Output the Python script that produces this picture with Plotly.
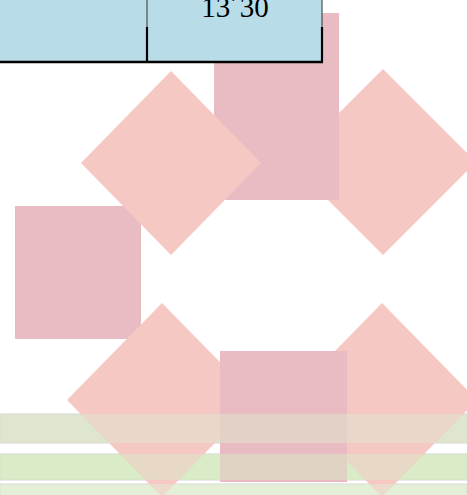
import plotly.graph_objects as go

W, H = 467, 495

# table (light blue header cell fragment)
table_x = [0, 322]
table_y = [0, 62]
divider_x = [147, 322]
split_y = 27
cell_text = "13´30"
cell_text_x = 235
cell_text_y = 10

# rectangles (mauve)
rect_x0 = [214, 15, 220]
rect_x1 = [339, 141, 347]
rect_y0 = [13, 206, 351]
rect_y1 = [200, 339, 482]

# diamonds (salmon): centre and half-diagonals
dia_cx = [383, 171, 162, 382]
dia_cy = [162, 163, 400, 400]
dia_rx = [93, 90, 95, 95]
dia_ry = [93, 92, 97, 97]

# green bands
band_y0 = [414, 454, 484]
band_y1 = [443, 480, 500]
band_col = ["#dfe6cf", "#d9ebc7", "#e3efd7"]

PINK = "#f6c8c3"
MAUVE = "#e8bcc2"
BLUE = "#b8dde8"

fig = go.Figure()

def poly(xs, ys, color, opacity=1.0, line_color=None, line_w=0):
    fig.add_trace(go.Scatter(
        x=xs, y=ys, mode="lines", fill="toself", fillcolor=color,
        opacity=opacity,
        line=dict(width=line_w, color=line_color or color),
        hoverinfo="skip", showlegend=False))

def rect(i):
    x0, x1, y0, y1 = rect_x0[i], rect_x1[i], rect_y0[i], rect_y1[i]
    poly([x0, x1, x1, x0, x0], [y0, y0, y1, y1, y0], MAUVE)

def diamond(i):
    cx, cy, rx, ry = dia_cx[i], dia_cy[i], dia_rx[i], dia_ry[i]
    poly([cx, cx + rx, cx, cx - rx, cx], [cy - ry, cy, cy + ry, cy, cy - ry], PINK)

def bands(opacity, edge):
    for y0, y1, c in zip(band_y0, band_y1, band_col):
        poly([0, W, W, 0, 0], [y0, y0, y1, y1, y0], c, opacity,
             line_color="#d3d3d3" if edge else c, line_w=1 if edge else 0)

# bottom band layer (opaque)
bands(1.0, True)
# shapes, back to front
diamond(0)
rect(0)
rect(1)
diamond(1)
diamond(2)
diamond(3)
rect(2)
# band layer blended on top
bands(0.5, False)

# table
tx0, tx1 = table_x
ty0, ty1 = table_y
poly([tx0, tx1, tx1, tx0, tx0], [ty0, ty0, ty1, ty1, ty0], BLUE)
for xv in divider_x:
    fig.add_trace(go.Scatter(x=[xv, xv], y=[ty0, split_y], mode="lines",
                             line=dict(color="#333333", width=1),
                             hoverinfo="skip", showlegend=False))
    fig.add_trace(go.Scatter(x=[xv, xv], y=[split_y, ty1], mode="lines",
                             line=dict(color="black", width=2.2),
                             hoverinfo="skip", showlegend=False))
fig.add_trace(go.Scatter(x=[tx0, divider_x[-1] + 1], y=[ty1, ty1], mode="lines",
                         line=dict(color="black", width=2.5),
                         hoverinfo="skip", showlegend=False))
fig.add_trace(go.Scatter(x=[cell_text_x], y=[cell_text_y], mode="text",
                         text=[cell_text], cliponaxis=False,
                         textfont=dict(family="Liberation Serif", size=29, color="black"),
                         hoverinfo="skip", showlegend=False))

fig.update_layout(
    width=W, height=H, autosize=False,
    margin=dict(l=0, r=0, t=0, b=0),
    paper_bgcolor="white", plot_bgcolor="white",
    xaxis=dict(range=[0, W], visible=False, fixedrange=True),
    yaxis=dict(range=[H, 0], visible=False, fixedrange=True),
)

fig.write_html("out.html", config={"displayModeBar": False},
               post_script="document.body.style.margin='0';document.body.style.overflow='hidden';")
